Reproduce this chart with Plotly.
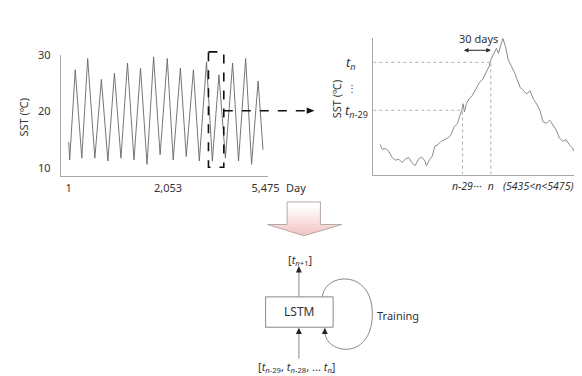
import plotly.graph_objects as go

W, H = 582, 376

# ---- Left panel: daily SST over 15 years (peaks / troughs)
sst_days = [1, 28, 182, 364, 528, 727, 909, 1090, 1272, 1453, 1635, 1816, 1997, 2179,
            2361, 2542, 2742, 2906, 3106, 3269, 3469, 3632, 3832, 3995, 4177, 4358,
            4558, 4722, 4921, 5085, 5267, 5403]
sst_vals = [14.6, 11.4, 27.4, 11.7, 29.4, 11.7, 25.7, 11.2, 26.8, 11.7, 28.6, 11.4,
            27.7, 10.6, 29.7, 12.3, 29.4, 11.4, 27.7, 12.0, 27.4, 11.2, 28.8, 11.2,
            26.5, 11.7, 28.6, 11.2, 29.4, 10.6, 25.4, 13.2]
left_tickvals = [1, 2760, 5475]
left_ticktext = ["1", "2,053", "5,475"]
left_ytickvals = [10, 20, 30]
box_days = [3886, 4313]          # highlighted window in the left panel

# ---- Right panel: zoomed window (days relative to window start)
win_days = [6, 8.3, 11.7, 15, 18.3, 21.7, 25, 28.3, 31.7, 35, 38.3, 41.7, 45, 48.3,
            51.7, 53.3, 56.7, 59.3, 61.7, 65, 68.3, 71.7, 75, 78.3, 81.7, 85, 87.3,
            89.3, 90.7, 92, 94, 96.7, 100, 104, 107.3, 110.7, 114, 117.3, 119, 122.3,
            124.7, 126.7, 129, 131.3, 134, 136.7, 140, 143.3, 145.7, 149, 152.3,
            155.7, 159, 162.3, 165.7, 169, 172.3, 175.7, 179, 182.3, 185.7, 189,
            192.3, 195.7, 199, 202.3, 205.7]
win_vals = [14.38, 13.67, 13.81, 13.33, 12.48, 12.10, 12.24, 11.76, 12.24, 12.48,
            11.76, 11.29, 12.24, 12.57, 12.00, 11.29, 12.24, 12.71, 14.14, 14.38,
            14.86, 15.10, 15.33, 15.81, 17.00, 17.48, 18.43, 19.38, 20.33, 19.14,
            20.33, 21.05, 21.52, 22.48, 23.43, 23.90, 24.86, 25.81, 26.76, 27.71,
            28.43, 27.71, 28.67, 29.86, 28.67, 26.76, 25.81, 24.86, 23.90, 22.71,
            22.24, 21.76, 22.24, 21.05, 20.33, 19.38, 17.71, 17.48, 17.95, 17.24,
            16.52, 15.33, 14.86, 15.10, 14.38, 13.90, 12.95]
n_start, n_end = 90, 119
t_start, t_end = 19.38, 26.38
right_tickvals = [90, 105.5, 119]
right_ticktext = ["<i>n-29</i>", "···", "<i>n</i>"]

FONT = "Noto Sans"
TXT = "#333333"
AX = "#a8a8a8"

L_XR = [-217, 5529]
L_DOM = (54, 265)


def lpx(d):
    return L_DOM[0] + (d - L_XR[0]) / (L_XR[1] - L_XR[0]) * (L_DOM[1] - L_DOM[0])


fig = go.Figure()

fig.add_trace(go.Scatter(x=sst_days, y=sst_vals, mode="lines",
                         line=dict(color="#666666", width=0.9), xaxis="x", yaxis="y",
                         hoverinfo="skip", showlegend=False))
fig.add_trace(go.Scatter(x=win_days, y=win_vals, mode="lines",
                         line=dict(color="#8a8a8a", width=1), xaxis="x2", yaxis="y2",
                         hoverinfo="skip", showlegend=False))

# big pink arrow (pixel overlay axis)
ax_x = [285, 319, 319, 341, 302, 265, 285, 285]
ax_y = [190, 190, 213, 213, 224.5, 213, 213, 190]
fig.add_trace(go.Scatter(x=ax_x, y=ax_y, mode="lines", fill="toself",
                         line=dict(color="#b8a8a8", width=1),
                         fillgradient=dict(type="vertical", start=190, stop=224.5,
                                           colorscale=[[0, "#ffffff"], [1, "#f0b8b8"]]),
                         xaxis="x3", yaxis="y3", hoverinfo="skip", showlegend=False))

shapes = []
ann = []


def tri(xc, tip, base, hw=3):
    return dict(type="path", xref="x3", yref="y3",
                path=f"M {xc},{tip} L {xc-hw},{base} L {xc+hw},{base} Z",
                fillcolor="#222222", line=dict(width=0))


# dashed window box + dashed arrow
bx0, bx1 = lpx(box_days[0]), lpx(box_days[1])
shapes.append(dict(type="rect", xref="x3", yref="y3", x0=bx0, x1=bx1, y0=36.7, y1=154.5,
                   line=dict(color="#111111", width=1.6, dash="dash")))
shapes.append(dict(type="line", xref="x3", yref="y3", x0=bx1, x1=307, y0=96.7, y1=96.7,
                   line=dict(color="#111111", width=1.5, dash="dash")))
shapes.append(dict(type="path", xref="x3", yref="y3",
                   path="M 313,96.7 L 305,93.5 L 305,99.9 Z",
                   fillcolor="#111111", line=dict(width=0)))

# right panel guide lines
g = dict(color="#b0b0b0", width=1, dash="dot")
shapes += [
    dict(type="line", xref="x2", yref="y2", x0=-1, x1=n_end, y0=t_end, y1=t_end, line=g),
    dict(type="line", xref="x2", yref="y2", x0=-1, x1=n_start, y0=t_start, y1=t_start, line=g),
    dict(type="line", xref="x2", yref="y2", x0=n_start, x1=n_start, y0=10, y1=t_start, line=g),
    dict(type="line", xref="x2", yref="y2", x0=n_end, x1=n_end, y0=10, y1=t_end, line=g),
]

# LSTM diagram
shapes.append(dict(type="rect", xref="x3", yref="y3", x0=263, x1=332, y0=287, y1=318,
                   line=dict(color="#888888", width=1), fillcolor="white"))
shapes.append(dict(type="line", xref="x3", yref="y3", x0=297, x1=297, y0=287, y1=261,
                   line=dict(color="#888888", width=1)))
shapes.append(tri(297, 255.5, 262))
shapes.append(dict(type="line", xref="x3", yref="y3", x0=297, x1=297, y0=350, y1=323,
                   line=dict(color="#888888", width=1)))
shapes.append(tri(297, 318.5, 325))
shapes.append(dict(type="path", xref="x3", yref="y3",
                   path="M 321,287 C 323,262 372,258 372,304 C 372,352 326,346 323.5,324",
                   line=dict(color="#888888", width=1)))
shapes.append(tri(323.5, 318.5, 325))


def t(x, y, s, size=11, **kw):
    d = dict(xref="x3", yref="y3", x=x, y=y, text=s, showarrow=False,
             font=dict(family=FONT, size=size, color=TXT))
    d.update(kw)
    ann.append(d)


t(16, 103, "SST (℃)", 11, textangle=-90)
t(294, 175, "Day", 11)
t(335, 85, "SST (℃)", 11, textangle=-90)
t(350, 48, "<i>t</i><sub><i>n</i></sub>", 13)
t(351, 74, "⋮", 10)
t(356, 97, "<i>t</i><sub><i>n</i>-29</sub>", 13)
t(480, 23, "30 days", 11)
t(541, 174, "<i>(5435&lt;n&lt;5475)</i>", 10.5)
t(298, 249, "[<i>t</i><sub><i>n</i>+1</sub>]", 11)
t(297.5, 302, "LSTM", 12)
t(398.5, 306, "Training", 11)
t(295, 359, "[<i>t</i><sub><i>n</i>-29</sub>, <i>t</i><sub><i>n</i>-28</sub>, ... <i>t</i><sub><i>n</i></sub>]", 11)

# 30 days double arrow
ann.append(dict(xref="x2", yref="y2", axref="x2", ayref="y2", x=n_end, y=28.14,
                ax=n_start, ay=28.14, text="", showarrow=True, arrowhead=2,
                startarrowhead=2, arrowside="end+start", arrowsize=0.9, startarrowsize=0.9,
                arrowwidth=1, arrowcolor="#222222"))

tickfont = dict(family=FONT, size=11, color=TXT)
rtickfont = dict(family=FONT, size=10.5, color=TXT)
fig.update_layout(
    width=W, height=H, margin=dict(l=0, r=0, t=0, b=0),
    paper_bgcolor="white", plot_bgcolor="rgba(0,0,0,0)",
    shapes=shapes, annotations=ann, showlegend=False,
    xaxis=dict(domain=[L_DOM[0] / W, L_DOM[1] / W], range=L_XR, anchor="y",
               showgrid=False, zeroline=False, showline=True, linecolor=AX, linewidth=1,
               tickvals=left_tickvals, ticktext=left_ticktext, ticks="", tickangle=0,
               tickfont=tickfont, ticklabelstandoff=2, fixedrange=True),
    yaxis=dict(domain=[1 - 163 / H, 1 - 40 / H], range=[8.61, 30], anchor="x",
               showgrid=False, zeroline=False, showline=True, linecolor=AX, linewidth=1,
               tickvals=left_ytickvals, ticks="", tickfont=tickfont,
               ticklabelstandoff=7, fixedrange=True),
    xaxis2=dict(domain=[373 / W, 1], range=[-1, 208], anchor="y2",
                showgrid=False, zeroline=False, showline=True, linecolor=AX, linewidth=1,
                tickvals=right_tickvals, ticktext=right_ticktext, ticks="", tickangle=0,
                tickfont=rtickfont, ticklabelstandoff=2, fixedrange=True),
    yaxis2=dict(domain=[1 - 162 / H, 1 - 22 / H], range=[10, 30], anchor="x2",
                showgrid=False, zeroline=False, showline=True, linecolor=AX, linewidth=1,
                showticklabels=False, ticks="", fixedrange=True),
    xaxis3=dict(domain=[0, 1], range=[0, W], anchor="y3", visible=False, fixedrange=True),
    yaxis3=dict(domain=[0, 1], range=[H, 0], anchor="x3", visible=False, fixedrange=True),
)

fig.write_html("out.html")
